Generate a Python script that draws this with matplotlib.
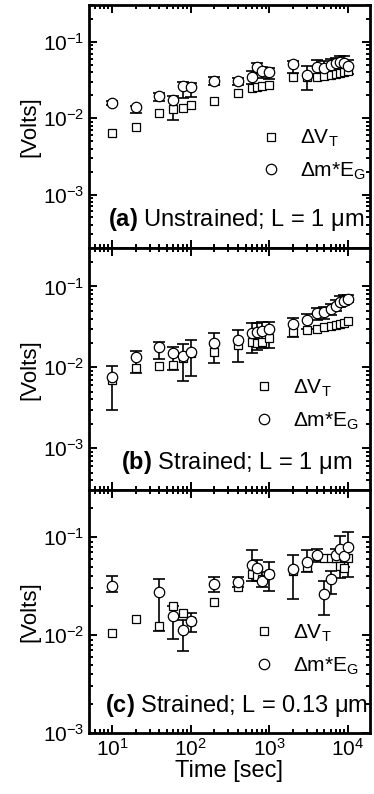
import numpy as np
import matplotlib
matplotlib.use("Agg")
import matplotlib.pyplot as plt

plt.rcParams['font.family'] = ['Liberation Sans', 'DejaVu Sans']
plt.rcParams['mathtext.fontset'] = 'custom'
plt.rcParams['mathtext.rm'] = 'Liberation Sans'
plt.rcParams['mathtext.it'] = 'Liberation Sans:italic'
plt.rcParams['mathtext.bf'] = 'Liberation Sans:bold'
plt.rcParams['mathtext.default'] = 'regular'

# stress time [sec]
t = [10, 20, 40, 60, 80, 100, 200, 400, 600, 700, 800, 1000,
     2000, 3000, 4000, 5000, 6000, 7000, 8000, 9000, 10000]
nan = np.nan

# (a) unstrained, L = 1 um
a_vt = [0.0063, 0.0077, 0.0117, 0.0130, 0.0134, 0.0147, 0.0169, 0.0211, 0.0245, 0.0252, 0.0262, 0.0271,
        0.0341, 0.035, 0.035, 0.036, 0.037, 0.038, 0.039, 0.040, 0.041]
a_me = [0.0159, 0.0138, 0.0196, 0.0172, 0.0265, 0.0257, 0.0308, 0.0308, 0.0348, 0.047, 0.0417, 0.040,
        0.051, 0.0366, 0.047, 0.0448, 0.0496, 0.0521, 0.0547, 0.053, 0.0484]
a_me_lo = [0.001, 0.0022, 0.003, 0.0078, 0.008, 0.007, 0.004, 0.004, 0.007, 0.008, 0.008, 0.007,
           0.012, 0.013, 0.012, 0.010, 0.010, 0.012, 0.013, 0.012, 0.010]
a_me_hi = [0.001, 0.0008, 0.002, 0.0023, 0.003, 0.003, 0.004, 0.003, 0.006, 0.006, 0.005, 0.005,
           0.005, 0.012, 0.010, 0.012, 0.010, 0.010, 0.010, 0.012, 0.010]

# (b) strained, L = 1 um
b_vt = [0.0070, 0.0098, 0.0105, 0.0107, 0.0129, 0.0149, 0.0156, 0.0189, 0.0207, 0.0201, 0.0207, 0.0228,
        0.0275, 0.029, 0.0297, 0.0316, 0.032, 0.0335, 0.0345, 0.0355, 0.037]
b_me = [0.0076, 0.0136, 0.018, 0.0149, 0.0138, 0.0156, 0.0198, 0.0217, 0.0263, 0.0275, 0.028, 0.0297,
        0.0348, 0.0383, 0.047, 0.048, 0.053, 0.058, 0.064, 0.067, 0.0705]
b_me_lo = [0.0046, 0.0051, 0.0053, 0.0056, 0.0071, 0.0079, 0.0085, 0.0099, 0.0114, 0.011, 0.0105, 0.0122,
           0.0109, 0.0086, 0.008, 0.008, 0.008, 0.008, 0.008, 0.008, 0.006]
b_me_hi = [0.0028, 0.0021, 0.0023, 0.0031, 0.0054, 0.0061, 0.0064, 0.0073, 0.0087, 0.008, 0.008, 0.0068,
           0.006, 0.0077, 0.007, 0.007, 0.008, 0.010, 0.012, 0.011, 0.008]

# (c) strained, L = 0.13 um
c_vt = [0.0106, 0.0147, 0.0123, 0.020, 0.017, 0.014, 0.0217, 0.0313, 0.0418, 0.040, 0.0372, 0.042,
        0.045, 0.050, 0.0637, 0.062, 0.062, 0.062, 0.051, 0.048, 0.062]
c_me = [0.0317, nan, 0.0275, 0.0158, 0.0114, 0.0138, 0.0336, 0.0352, 0.0518, 0.048, 0.0357, 0.0425,
        0.047, 0.056, 0.0662, 0.0265, 0.0371, 0.066, 0.0757, 0.0646, 0.080]
c_me_lo = [0.004, nan, 0.0166, 0.0067, 0.0045, 0.0031, 0.0062, 0.004, 0.016, 0.012, 0.0047, 0.0143,
           0.0235, 0.0124, 0.010, 0.0103, 0.011, 0.010, 0.037, 0.015, 0.041]
c_me_hi = [0.008, nan, 0.0097, 0.004, 0.003, 0.0031, 0.0057, 0.004, 0.022, 0.010, 0.0079, 0.0135,
           0.019, 0.018, 0.010, 0.0092, 0.008, 0.010, 0.028, 0.015, 0.032]

panels = [
    (a_vt, a_me, a_me_lo, a_me_hi, 2e-4, 'Unstrained; L = 1 \u03bcm', '(a)'),
    (b_vt, b_me, b_me_lo, b_me_hi, 3e-4, 'Strained; L = 1 \u03bcm', '(b)'),
    (c_vt, c_me, c_me_lo, c_me_hi, 1e-3, 'Strained; L = 0.13 \u03bcm', '(c)'),
]
leg_anchor = [(0.61, 0.495), (0.585, 0.465), (0.585, 0.455)]

fig = plt.figure(figsize=(3.74, 7.94), dpi=100)
h = 0.3055
for i, (vt, me, lo, hi, ymin, label, tag) in enumerate(panels):
    ax = fig.add_axes([0.238, 0.0768 + (2 - i) * h, 0.751, h])
    ax.errorbar(t, me, yerr=[lo, hi], fmt='none', ecolor='black', elinewidth=1.2,
                capsize=4.5, capthick=1.2, zorder=2)
    ax.plot(t, vt, 's', ms=6, mfc='white', mec='black', mew=0.9, label=r'$\Delta$V$_T$', zorder=3)
    ax.plot(t, me, 'o', ms=7.5, mfc='white', mec='black', mew=0.9, label=r'$\Delta$m*E$_G$', zorder=4)
    ax.set_xscale('log')
    ax.set_yscale('log')
    ax.set_xlim(5.1, 1.9e4)
    ax.set_ylim(ymin, 0.3)
    ax.tick_params(which='both', direction='in', top=True, right=True, width=1.4)
    ax.tick_params(which='major', length=6, labelsize=15)
    ax.tick_params(which='minor', length=3)
    for s in ax.spines.values():
        s.set_linewidth(2)
    ax.set_ylabel('[Volts]', fontsize=16, labelpad=2)
    if i < 2:
        ax.tick_params(labelbottom=False)
    else:
        ax.set_xlabel('Time [sec]', fontsize=17, labelpad=0)
    ax.legend(loc='upper left', bbox_to_anchor=leg_anchor[i], frameon=False, fontsize=15,
              handlelength=1.0, handletextpad=0.9, labelspacing=0.55, borderpad=0, borderaxespad=0)
    ax.text(0.525, 0.115, r'$\mathbf{' + tag + '}$ ' + label, transform=ax.transAxes,
            ha='center', va='center', fontsize=17)

fig.savefig('out.png', dpi=100)
